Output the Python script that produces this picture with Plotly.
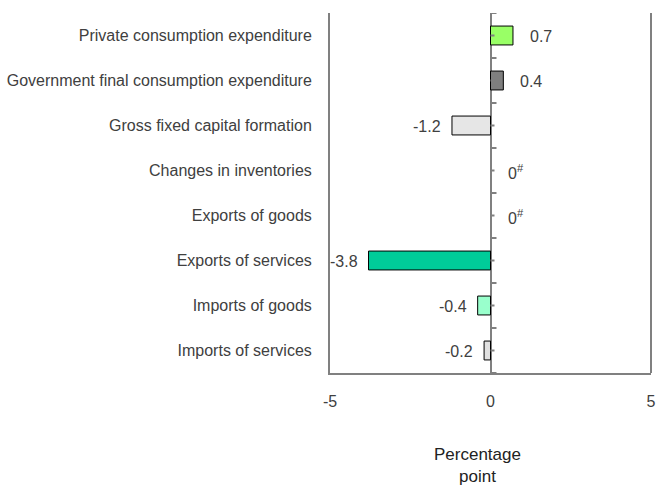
import plotly.graph_objects as go

categories = [
    "Private consumption expenditure",
    "Government final consumption expenditure",
    "Gross fixed capital formation",
    "Changes in inventories",
    "Exports of goods",
    "Exports of services",
    "Imports of goods",
    "Imports of services",
]
values = [0.7, 0.4, -1.2, 0.0, 0.0, -3.8, -0.4, -0.2]
value_labels = ["0.7", "0.4", "-1.2", "0<sup>#</sup>", "0<sup>#</sup>", "-3.8", "-0.4", "-0.2"]
bar_colors = ["#99ff66", "#7f7f7f", "#e6e6e6", "#ffffff", "#ffffff", "#00cc99", "#99ffcc", "#e0e0e0"]
x_ticks = [-5, 0, 5]

GREY = "#808080"
TXT = "#404040"
FONT = "Liberation Sans, Arial, sans-serif"

fig = go.Figure()
fig.add_trace(go.Bar(
    x=values, y=categories, orientation="h",
    marker=dict(color=bar_colors,
                line=dict(color="#000000", width=[1 if v != 0 else 0 for v in values])),
    width=0.42, hoverinfo="x+y",
))

# value labels
for v, lab, c in zip(values, value_labels, categories):
    pos = v >= 0
    fig.add_annotation(
        x=v, y=c, xref="x", yref="y", text=lab, showarrow=False,
        xanchor="left" if pos else "right", yanchor="middle",
        xshift=15 if pos else -9, yshift=-1,
        font=dict(family=FONT, size=16, color=TXT),
    )

# ticks on the zero line (category centres and boundaries)
n = len(categories)
for i in range(n):
    fig.add_shape(type="line", xref="x", yref="y", xsizemode="pixel", xanchor=0,
                  x0=0, x1=4, y0=i, y1=i, line=dict(color=GREY, width=2))
for i in range(n + 1):
    b = i - 0.5
    fig.add_shape(type="line", xref="x", yref="y", xsizemode="pixel", xanchor=0,
                  x0=0, x1=6, y0=b, y1=b, line=dict(color=GREY, width=2))

# right border of the plot area (no top border)
fig.add_shape(type="line", xref="paper", yref="paper", x0=1, x1=1, y0=0, y1=1,
              line=dict(color=GREY, width=2))

fig.add_annotation(
    x=0.46, y=-0.256, xref="paper", yref="paper",
    text="Percentage<br>point", showarrow=False, xanchor="center", yanchor="middle",
    font=dict(family=FONT, size=17, color="#222222"),
)

fig.update_layout(
    width=656, height=486,
    margin=dict(l=330, r=5, t=13, b=113, pad=0),
    paper_bgcolor="white", plot_bgcolor="white",
    showlegend=False,
    font=dict(family=FONT, color=TXT),
    xaxis=dict(
        range=[-5, 5], tickvals=x_ticks, ticktext=[str(t) for t in x_ticks],
        showgrid=False, zeroline=True, zerolinecolor=GREY, zerolinewidth=2,
        showline=True, linecolor=GREY, linewidth=2, mirror=False,
        ticks="", ticklabelstandoff=13, automargin=False,
        ticklabeloverflow="allow",
        tickfont=dict(family=FONT, size=16, color=TXT),
    ),
    yaxis=dict(
        categoryorder="array", categoryarray=categories,
        range=[n - 0.5, -0.5],
        showgrid=False, zeroline=False,
        showline=True, linecolor=GREY, linewidth=2, mirror=False,
        ticks="", ticklabelstandoff=13, automargin=False,
        tickfont=dict(family=FONT, size=16, color=TXT),
    ),
)

fig.write_html(
    "out.html",
    config={"displayModeBar": False},
    post_script="document.body.style.margin='0';document.body.style.overflow='hidden';",
)
